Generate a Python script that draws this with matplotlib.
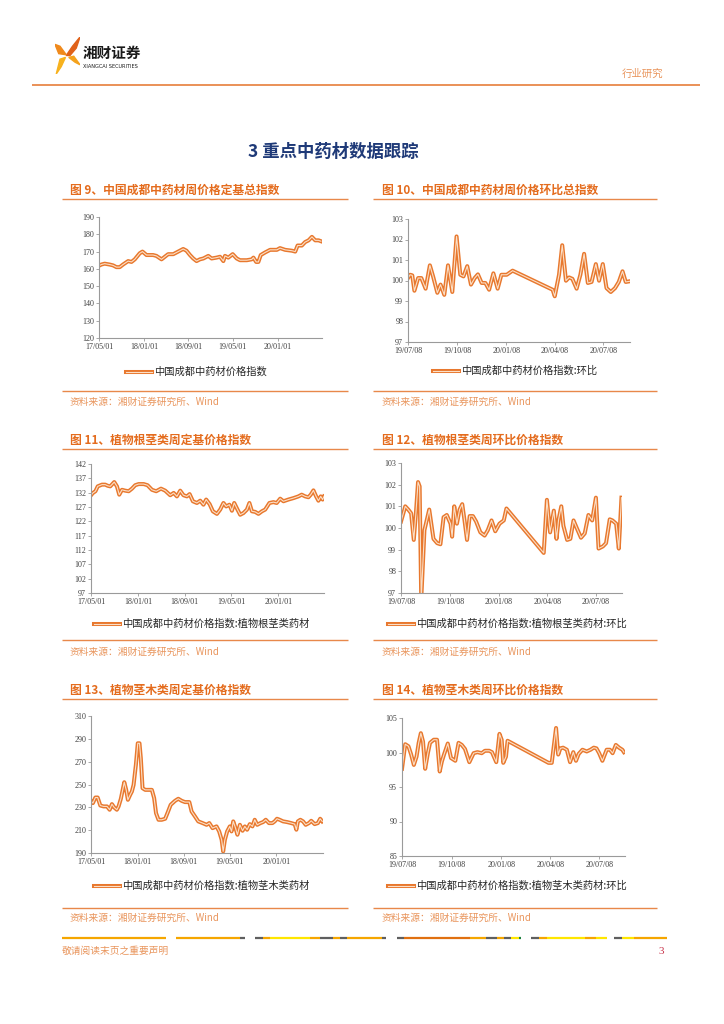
import numpy as np
import pandas as pd
import matplotlib
matplotlib.use('Agg')
import matplotlib.pyplot as plt
import matplotlib.dates as mdates
from matplotlib.lines import Line2D
from matplotlib.patches import Polygon
from matplotlib.legend_handler import HandlerTuple

plt.rcParams['font.family'] = ['Noto Sans CJK SC', 'DejaVu Sans']

W, H = 724, 1024
LINE = '#E8782E'
LINE_IN = '#FBE0C8'
TITLE_C = '#E46C1E'
RULE_C = '#E8884A'
SRC_C = '#E9955C'

# ---- data ----
TICKS_LONG = ['2017-05-01', '2018-01-01', '2018-09-01', '2019-05-01', '2020-01-01']
TICKS_SHORT = ['2019-07-08', '2019-10-08', '2020-01-08', '2020-04-08', '2020-07-08']

c9_dates = ['2017-05-01', '2017-05-14', '2017-06-01', '2017-06-28', '2017-07-17', '2017-08-04',
            '2017-08-22', '2017-09-09', '2017-10-07', '2017-10-25', '2017-11-12', '2017-12-09',
            '2017-12-24', '2018-01-15', '2018-02-20', '2018-03-10', '2018-04-07', '2018-04-25',
            '2018-05-13', '2018-06-10', '2018-07-07', '2018-08-03', '2018-08-21', '2018-09-09',
            '2018-09-27', '2018-10-15', '2018-11-02', '2018-11-21', '2018-12-18', '2019-01-05',
            '2019-02-01', '2019-02-20', '2019-03-10', '2019-03-19', '2019-04-06', '2019-04-30',
            '2019-05-22', '2019-06-09', '2019-07-16', '2019-08-12', '2019-08-21', '2019-09-05',
            '2019-09-17', '2019-09-30', '2019-10-24', '2019-11-20', '2019-12-27', '2020-01-13',
            '2020-02-10', '2020-03-18', '2020-04-05', '2020-04-18', '2020-05-11', '2020-05-29',
            '2020-06-17', '2020-07-05', '2020-07-23', '2020-08-10', '2020-08-23']
c9_values = [161.8, 162.5, 163, 162.5, 162, 161, 161, 162.5, 164.5, 164,
             165.5, 169, 170, 168, 168, 167.5, 165.5, 167, 168.5, 168.5,
             170, 171.5, 170.5, 168, 166, 164.5, 165.5, 166, 167.5, 166,
             166.5, 167, 164.5, 167.5, 166.5, 168.5, 166, 165, 165, 165.5,
             166.5, 164, 164, 168, 169.5, 171, 171, 172, 171, 170.5,
             170, 173.5, 173.5, 175.5, 176.5, 178.5, 176.5, 176.5, 176]

c10_dates = ['2019-07-08', '2019-07-12', '2019-07-16', '2019-07-20', '2019-07-27', '2019-08-02',
             '2019-08-10', '2019-08-18', '2019-08-24', '2019-09-01', '2019-09-07', '2019-09-14',
             '2019-09-21', '2019-09-29', '2019-10-07', '2019-10-14', '2019-10-20', '2019-10-27',
             '2019-11-03', '2019-11-10', '2019-11-16', '2019-11-23', '2019-11-30', '2019-12-07',
             '2019-12-15', '2019-12-23', '2019-12-30', '2020-01-09', '2020-01-20', '2020-04-04',
             '2020-04-08', '2020-04-16', '2020-04-22', '2020-04-29', '2020-05-05', '2020-05-11',
             '2020-05-19', '2020-05-26', '2020-06-02', '2020-06-09', '2020-06-16', '2020-06-24',
             '2020-06-30', '2020-07-07', '2020-07-14', '2020-07-22', '2020-07-30', '2020-08-06',
             '2020-08-13', '2020-08-19', '2020-08-26']
c10_values = [100.12, 100.28, 100.25, 99.5, 100.12, 100.12, 99.6, 100.74, 100.2, 99.4,
              99.8, 99.3, 100.74, 99.44, 102.15, 100.28, 100.2, 100.7, 99.8, 100.12,
              100.3, 99.88, 99.88, 99.55, 100.35, 99.6, 100.28, 100.28, 100.48, 99.55,
              99.23, 100.28, 101.72, 99.99, 100.15, 100.08, 99.6, 100.28, 101.3, 99.88,
              99.93, 100.8, 99.99, 100.8, 99.63, 99.44, 99.63, 99.93, 100.45, 99.93,
              99.96]

c11_dates = ['2017-05-01', '2017-05-11', '2017-05-24', '2017-06-05', '2017-06-27', '2017-07-14',
             '2017-07-27', '2017-08-09', '2017-08-30', '2017-09-13', '2017-09-25', '2017-10-09',
             '2017-10-26', '2017-11-13', '2017-11-30', '2017-12-17', '2018-01-04', '2018-01-30',
             '2018-02-19', '2018-03-14', '2018-04-05', '2018-04-30', '2018-05-22', '2018-06-17',
             '2018-07-05', '2018-07-22', '2018-08-08', '2018-08-25', '2018-09-12', '2018-09-26',
             '2018-10-13', '2018-11-03', '2018-11-20', '2018-12-07', '2018-12-21', '2019-01-08',
             '2019-01-25', '2019-02-15', '2019-03-04', '2019-03-21', '2019-04-04', '2019-04-21',
             '2019-05-04', '2019-05-16', '2019-06-02', '2019-06-16', '2019-07-03', '2019-07-21',
             '2019-08-03', '2019-08-16', '2019-09-02', '2019-09-19', '2019-10-07', '2019-10-24',
             '2019-11-15', '2019-12-06', '2019-12-23', '2020-01-10', '2020-01-27', '2020-02-22',
             '2020-03-19', '2020-04-14', '2020-05-01', '2020-05-19', '2020-06-05', '2020-06-17',
             '2020-07-01', '2020-07-15', '2020-07-27', '2020-08-08', '2020-08-18', '2020-08-25']
c11_values = [131.1, 131.9, 132.5, 134.2, 134.8, 134.8, 134.4, 134.2, 135.7, 134.2,
              131.3, 133.0, 132.7, 132.5, 133.4, 134.6, 135.0, 135.0, 134.6, 133.0,
              132.5, 133.4, 132.7, 131.1, 131.9, 130.7, 132.7, 131.1, 130.7, 131.5,
              129.0, 128.4, 129.2, 127.8, 129.6, 128.0, 125.5, 124.6, 126.1, 128.4,
              127.2, 127.8, 125.7, 128.4, 126.1, 124.3, 124.9, 126.1, 128.4, 125.5,
              125.3, 124.6, 125.5, 126.1, 128.4, 128.7, 128.4, 129.9, 129.0, 129.6,
              130.1, 130.7, 131.3, 130.7, 130.4, 131.3, 132.8, 130.7, 129.2, 130.7,
              129.6, 130.7]

c12_dates = ['2019-07-08', '2019-07-13', '2019-07-16', '2019-07-22', '2019-07-27', '2019-08-01',
             '2019-08-05', '2019-08-09', '2019-08-12', '2019-08-15', '2019-08-21', '2019-08-30',
             '2019-09-07', '2019-09-14', '2019-09-20', '2019-09-26', '2019-10-02', '2019-10-09',
             '2019-10-12', '2019-10-16', '2019-10-21', '2019-10-26', '2019-10-31', '2019-11-04',
             '2019-11-09', '2019-11-14', '2019-11-20', '2019-11-26', '2019-12-04', '2019-12-12',
             '2019-12-18', '2019-12-25', '2020-01-01', '2020-01-09', '2020-01-17', '2020-01-22',
             '2020-04-01', '2020-04-07', '2020-04-13', '2020-04-20', '2020-04-25', '2020-04-29',
             '2020-05-04', '2020-05-08', '2020-05-15', '2020-05-21', '2020-05-27', '2020-06-02',
             '2020-06-10', '2020-06-17', '2020-06-24', '2020-07-01', '2020-07-08', '2020-07-13',
             '2020-07-21', '2020-07-27', '2020-08-03', '2020-08-08', '2020-08-15', '2020-08-20',
             '2020-08-25']
c12_values = [100.3, 100.73, 101.0, 100.84, 100.68, 99.45, 100.68, 102.12, 101.92, 96.7,
              99.9, 100.85, 99.5, 99.3, 99.25, 100.5, 100.6, 100.2, 99.6, 101.0,
              100.2, 100.85, 101.1, 100.4, 99.45, 100.55, 100.55, 100.3, 99.8, 99.65,
              99.9, 100.35, 99.85, 100.2, 100.35, 100.9, 98.85, 101.3, 99.8, 100.8,
              99.5, 100.4, 101.0, 100.1, 99.45, 99.5, 100.35, 100.0, 99.55, 99.75,
              100.6, 100.35, 101.4, 99.05, 99.15, 99.3, 100.4, 100.35, 100.2, 99.05,
              101.4]

c13_dates = ['2017-05-01', '2017-05-11', '2017-05-24', '2017-06-05', '2017-06-19', '2017-07-06',
             '2017-07-24', '2017-08-07', '2017-08-19', '2017-08-31', '2017-09-14', '2017-09-23',
             '2017-10-05', '2017-10-23', '2017-11-02', '2017-11-11', '2017-11-23', '2017-12-02',
             '2017-12-11', '2017-12-23', '2018-01-02', '2018-01-11', '2018-01-18', '2018-01-27',
             '2018-02-10', '2018-02-27', '2018-03-17', '2018-03-29', '2018-04-08', '2018-04-21',
             '2018-05-08', '2018-05-26', '2018-06-07', '2018-06-24', '2018-07-17', '2018-08-03',
             '2018-08-21', '2018-09-07', '2018-09-30', '2018-10-12', '2018-10-30', '2018-11-16',
             '2018-12-09', '2018-12-30', '2019-01-13', '2019-01-30', '2019-02-20', '2019-03-06',
             '2019-03-19', '2019-03-27', '2019-04-05', '2019-04-17', '2019-05-01', '2019-05-10',
             '2019-05-19', '2019-05-31', '2019-06-10', '2019-06-23', '2019-07-07', '2019-07-19',
             '2019-07-31', '2019-08-14', '2019-08-28', '2019-09-09', '2019-09-22', '2019-10-09',
             '2019-10-23', '2019-11-06', '2019-11-23', '2019-12-11', '2019-12-23', '2020-01-04',
             '2020-01-18', '2020-02-05', '2020-02-26', '2020-03-19', '2020-04-06', '2020-04-15',
             '2020-04-23', '2020-05-06', '2020-05-20', '2020-06-03', '2020-06-20', '2020-07-02',
             '2020-07-20', '2020-08-06', '2020-08-18', '2020-08-29']
c13_values = [235.7, 233.7, 238.6, 238.6, 231.6, 230.8, 230.8, 227.9, 232.8, 229.9,
              227.9, 230.8, 237.5, 252.0, 245.3, 236.6, 241.0, 243.9, 249.7, 267.2,
              286.1, 286.1, 273.0, 246.8, 245.3, 245.3, 245.3, 238.1, 224.9, 219.1,
              219.1, 220.0, 224.9, 232.2, 235.7, 237.5, 235.7, 234.6, 234.6, 226.4,
              222.0, 217.7, 216.2, 214.7, 216.2, 211.8, 213.3, 208.9, 201.6, 191.4,
              201.6, 208.9, 213.3, 208.9, 217.7, 211.8, 206.0, 214.7, 209.5, 213.3,
              210.4, 215.3, 213.3, 219.1, 214.7, 216.2, 217.1, 219.1, 216.2, 216.2,
              217.7, 220.0, 219.1, 217.7, 217.1, 216.2, 215.3, 210.4, 217.7, 219.1,
              217.7, 214.7, 216.2, 218.2, 215.3, 216.2, 220.0, 217.7]

c14_dates = ['2019-07-08', '2019-07-14', '2019-07-20', '2019-07-25', '2019-07-30', '2019-08-04',
             '2019-08-08', '2019-08-12', '2019-08-16', '2019-08-20', '2019-08-25', '2019-08-29',
             '2019-09-05', '2019-09-11', '2019-09-16', '2019-09-20', '2019-09-24', '2019-10-01',
             '2019-10-07', '2019-10-15', '2019-10-21', '2019-10-27', '2019-11-02', '2019-11-10',
             '2019-11-18', '2019-11-25', '2019-12-03', '2019-12-09', '2019-12-17', '2019-12-22',
             '2019-12-30', '2020-01-05', '2020-01-09', '2020-01-12', '2020-01-17', '2020-01-20',
             '2020-04-05', '2020-04-11', '2020-04-19', '2020-04-23', '2020-04-27', '2020-05-02',
             '2020-05-09', '2020-05-15', '2020-05-21', '2020-05-26', '2020-05-31', '2020-06-07',
             '2020-06-15', '2020-06-22', '2020-06-28', '2020-07-03', '2020-07-08', '2020-07-14',
             '2020-07-22', '2020-07-28', '2020-08-02', '2020-08-08', '2020-08-14', '2020-08-20',
             '2020-08-23']
c14_values = [97.64, 101.2, 100.9, 99.7, 98.2, 99.4, 101.4, 102.8, 101.6, 97.64,
              99.9, 101.4, 101.85, 101.85, 97.25, 98.7, 99.7, 101.3, 99.2, 98.8,
              101.4, 101.1, 100.5, 98.6, 99.9, 100.05, 99.9, 100.25, 100.25, 100.05,
              98.6, 102.7, 101.85, 98.5, 99.4, 101.7, 98.5, 98.5, 103.55, 99.7,
              100.6, 100.7, 100.4, 98.6, 100.05, 98.8, 99.8, 100.4, 100.15, 100.4,
              100.7, 100.6, 99.9, 98.8, 100.4, 100.4, 99.9, 101.1, 100.7, 100.4,
              100.05]

fig = plt.figure(figsize=(W / 100, H / 100), dpi=100)


def fx(x):
    return x / W


def fy(y):
    return 1 - y / H


def hline(x0, x1, y, color, lw):
    fig.add_artist(Line2D([fx(x0), fx(x1)], [fy(y), fy(y)], transform=fig.transFigure,
                          color=color, lw=lw, solid_capstyle='butt'))


def draw_chart(box, dates, values, xlim, xticks, ylim, yticks, label, leg_xy):
    x0, y0, x1, y1 = box
    ax = fig.add_axes([fx(x0), fy(y1), (x1 - x0) / W, (y1 - y0) / H])
    x = pd.to_datetime(dates)
    l1, = ax.plot(x, values, color=LINE, lw=2.9, solid_joinstyle='round')
    l2, = ax.plot(x, values, color=LINE_IN, lw=0.8, solid_joinstyle='round')
    ax.set_xlim(pd.Timestamp(xlim[0]), pd.Timestamp(xlim[1]))
    ax.set_xticks(pd.to_datetime(xticks))
    ax.xaxis.set_major_formatter(mdates.DateFormatter('%y/%m/%d'))
    ax.set_ylim(*ylim)
    ax.set_yticks(yticks)
    for s in ['top', 'right']:
        ax.spines[s].set_visible(False)
    for s in ['left', 'bottom']:
        ax.spines[s].set_color('#9A9A9A')
        ax.spines[s].set_linewidth(0.8)
    ax.tick_params(labelsize=5.8, labelfontfamily='Liberation Serif', colors='#404040',
                   length=2, width=0.6, pad=1.5, direction='out')
    ax.tick_params(axis='both', color='#9A9A9A')
    ax.set_facecolor('none')
    ax.legend([(l1, l2)], [label], handler_map={tuple: HandlerTuple(ndivide=1)},
              loc='center left', bbox_to_anchor=(fx(leg_xy[0]), fy(leg_xy[1])),
              bbox_transform=fig.transFigure, frameon=False, fontsize=7.4,
              handlelength=2.5, handletextpad=0.25, borderpad=0, borderaxespad=0,
              labelcolor='#262626')
    return ax


def panel_frame(xl, xr, text_x, title, y_title, y_rule, y_bottom, y_src):
    fig.text(fx(text_x), fy(y_title), title, fontsize=8.5, fontweight='bold',
             color=TITLE_C, va='center', ha='left')
    hline(xl, xr, y_rule, RULE_C, 1.0)
    hline(xl, xr, y_bottom, RULE_C, 1.0)
    fig.text(fx(text_x), fy(y_src), '资料来源：湘财证券研究所、Wind', fontsize=7,
             color=SRC_C, va='center', ha='left')


# ---- header ----
logo = fig.add_axes([fx(55), fy(74), 25 / W, 37 / H])
logo.set_xlim(0, 1)
logo.set_ylim(0, 1)
logo.axis('off')
logo.add_patch(Polygon([(0.45, 0.5), (0.7, 0.75), (1.0, 1.0), (0.85, 0.7), (0.6, 0.5)], color='#E0621A'))
logo.add_patch(Polygon([(0.0, 0.8), (0.2, 0.75), (0.45, 0.52), (0.15, 0.55)], color='#F08A1C'))
logo.add_patch(Polygon([(0.42, 0.45), (0.25, 0.2), (0.05, 0.0), (0.2, 0.4)], color='#F7B21E'))
logo.add_patch(Polygon([(0.55, 0.45), (0.8, 0.32), (1.0, 0.25), (0.75, 0.48)], color='#F4A21C'))
fig.text(fx(83), fy(53), '湘财证券', fontsize=10.5, fontweight='bold', color='#1a1a1a',
         va='center', ha='left')
fig.text(fx(83), fy(67), 'XIANGCAI SECURITIES', fontsize=3.6, color='#1a1a1a',
         va='center', ha='left', family='DejaVu Sans')
fig.text(fx(622), fy(74), '行业研究', fontsize=7.5, color=SRC_C, va='center', ha='left')
hline(32, 700, 85, RULE_C, 1.3)

fig.text(fx(333), fy(152), '3 重点中药材数据跟踪', fontsize=12.5, fontweight='bold',
         color='#1F3A78', va='center', ha='center')

# ---- panels ----
panel_frame(62, 348, 70, '图 9、中国成都中药材周价格定基总指数', 190, 199, 391, 402)
panel_frame(373, 657, 382, '图 10、中国成都中药材周价格环比总指数', 190, 199, 391, 402)
panel_frame(62, 348, 70, '图 11、植物根茎类周定基价格指数', 440, 449, 640, 652)
panel_frame(373, 657, 382, '图 12、植物根茎类周环比价格指数', 440, 449, 640, 652)
panel_frame(62, 348, 70, '图 13、植物茎木类周定基价格指数', 690, 699, 908, 918)
panel_frame(373, 657, 382, '图 14、植物茎木类周环比价格指数', 690, 699, 908, 918)

draw_chart((99, 217, 322, 338), c9_dates, c9_values, ('2017-05-01', '2020-08-29'), TICKS_LONG,
           (120, 190), np.arange(120, 191, 10), '中国成都中药材价格指数', (126, 372))
draw_chart((408, 219, 630, 342), c10_dates, c10_values, ('2019-07-08', '2020-08-27'), TICKS_SHORT,
           (97, 103), np.arange(97, 104, 1), '中国成都中药材价格指数:环比', (433, 371))
draw_chart((91, 464, 324, 593), c11_dates, c11_values, ('2017-05-01', '2020-08-25'), TICKS_LONG,
           (97, 142), np.arange(97, 143, 5), '中国成都中药材价格指数:植物根茎类药材', (94, 624))
draw_chart((401, 463, 622, 593), c12_dates, c12_values, ('2019-07-08', '2020-08-26'), TICKS_SHORT,
           (97, 103), np.arange(97, 104, 1), '中国成都中药材价格指数:植物根茎类药材:环比', (388, 624))
draw_chart((91, 716, 323, 853), c13_dates, c13_values, ('2017-05-01', '2020-09-02'), TICKS_LONG,
           (190, 310), np.arange(190, 311, 20), '中国成都中药材价格指数:植物茎木类药材', (94, 886))
draw_chart((402, 718, 625, 856), c14_dates, c14_values, ('2019-07-08', '2020-08-25'), TICKS_SHORT,
           (85, 105), np.arange(85, 106, 5), '中国成都中药材价格指数:植物茎木类药材:环比', (388, 886))

# ---- footer ----
AMB, GRY, YEL, DOR, GRN = '#F5A600', '#5F5F5F', '#FFE600', '#E07010', '#1E8040'
footer_bars = [(62, 166, AMB), (176, 240, AMB), (240, 245, GRY),
               (255, 263, GRY), (263, 270, AMB), (270, 310, YEL), (310, 320, AMB),
               (320, 333, GRY), (333, 340, AMB), (340, 347, GRY), (347, 382, AMB), (382, 386, GRY),
               (397, 404, GRY), (404, 470, DOR), (470, 486, AMB), (486, 497, GRY), (497, 504, AMB),
               (504, 511, GRY), (511, 519, YEL), (519, 521, GRN),
               (531, 539, GRY), (539, 547, AMB), (547, 585, YEL), (585, 596, AMB), (596, 607, YEL),
               (614, 622, GRY), (622, 634, YEL), (634, 667, AMB)]
for a, b, c in footer_bars:
    hline(a, b, 938, c, 1.6)
fig.text(fx(62), fy(951), '敬请阅读末页之重要声明', fontsize=7, color=SRC_C, va='center', ha='left')
fig.text(fx(664), fy(951), '3', fontsize=8, color='#C8324A', va='center', ha='right',
         family='Liberation Serif')

fig.savefig('out.png', dpi=100)
